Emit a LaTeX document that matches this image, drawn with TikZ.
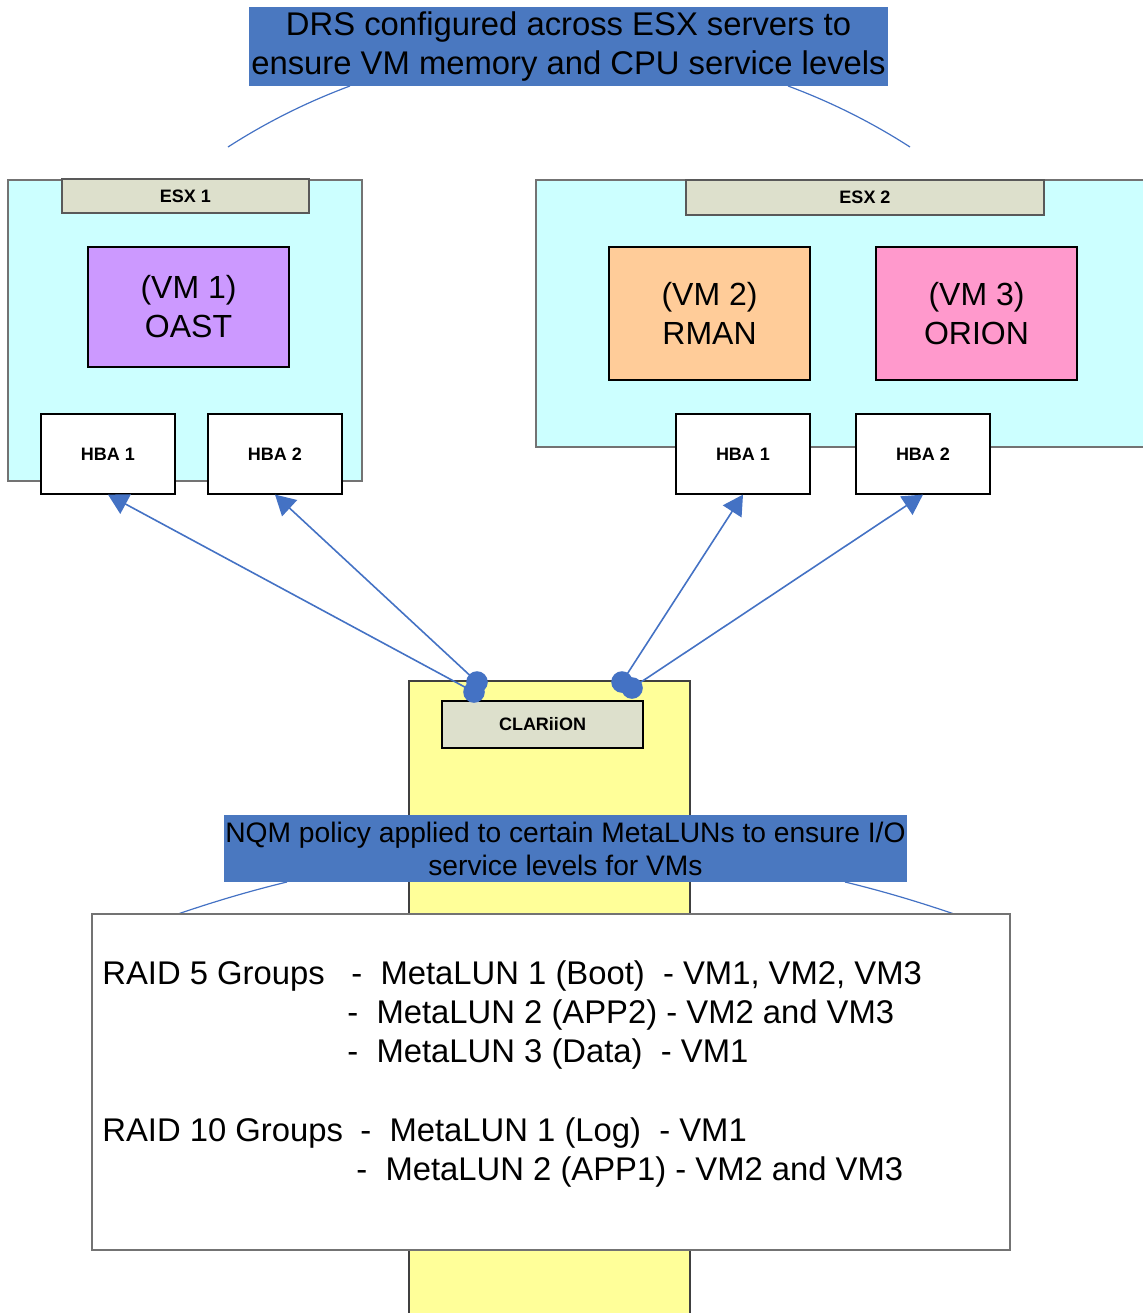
\documentclass[tikz,border=0pt]{standalone}
\usepackage{fontspec}
\setmainfont{Liberation Sans}
\usetikzlibrary{arrows.meta}
\usetikzlibrary{calc}
\definecolor{esxcyan}{HTML}{CCFFFF}
\definecolor{lblgray}{HTML}{DDE0CC}
\definecolor{vmviolet}{HTML}{CC99FF}
\definecolor{vmorange}{HTML}{FFCC99}
\definecolor{vmpink}{HTML}{FF99CC}
\definecolor{claryellow}{HTML}{FFFF99}
\definecolor{bannerblue}{HTML}{4A78C0}
\definecolor{linkblue}{HTML}{4472C4}

\begin{document}
\begin{tikzpicture}[x=0.5pt,y=-0.5pt,
		box/.style={draw, rectangle, inner sep=0pt, line width=0.6pt},
		lbl/.style={box, draw=black!65, fill=lblgray, font=\fontsize{9pt}{10pt}\selectfont\bfseries},
		hba/.style={box, fill=white, minimum width=67pt, minimum height=40pt, font=\fontsize{9pt}{10pt}\selectfont\bfseries},
		vm/.style={box, minimum width=100.5pt, align=center, font=\fontsize{16pt}{19.5pt}\selectfont},
		banner/.style={rectangle, fill=bannerblue, inner sep=0pt, align=center},
		curve/.style={linkblue, line width=0.6pt},
		link/.style={linkblue, line width=0.8pt, -{Triangle[length=10pt,width=11pt]}},
		lun/.style={anchor=base west, inner sep=0pt, font=\fontsize{16.4pt}{19.5pt}\selectfont}]
			\clip (0,0) rectangle (1143,1313);
			
			\draw[curve] (228,147) .. controls (266.3,122.3) and (307.2,101.9) .. (350,86);
			\draw[curve] (788,86) .. controls (830.8,101.9) and (871.7,122.3) .. (910,147);
			\node[banner, minimum width=319.5pt, minimum height=39.5pt, font=\fontsize{16.4pt}{19.5pt}\selectfont] (drs) at (568.5,46.5) {\raisebox{-1pt}{DRS configured across ESX servers to}\\\raisebox{-1pt}{ensure VM memory and CPU service levels}};
			
			\node[box, draw=black!55, fill=esxcyan, minimum width=177pt, minimum height=150.5pt] (esxa) at (185,330.5) {};
			\node[lbl, minimum width=123.5pt, minimum height=17pt] (esxalbl) at (185.5,196) {ESX 1};
			\node[vm, fill=vmviolet, minimum height=60pt] (vma) at (188.5,307) {(VM 1)\\OAST};
			\node[hba] (hbaa1) at (108,454) {HBA 1};
			\node[hba] (hbaa2) at (275,454) {HBA 2};
			
			\node[box, draw=black!55, fill=esxcyan, minimum width=312pt, minimum height=133.5pt] (esxb) at (848,313.5) {};
			\node[lbl, minimum width=179pt, minimum height=17.5pt] (esxblbl) at (865,197.5) {ESX 2};
			\node[vm, fill=vmorange, minimum height=66.5pt] (vmb) at (709.5,313.5) {(VM 2)\\RMAN};
			\node[vm, fill=vmpink, minimum height=66.5pt] (vmc) at (976.5,313.5) {(VM 3)\\ORION};
			\node[hba] (hbab1) at (743,454) {HBA 1};
			\node[hba] (hbab2) at (923,454) {HBA 2};
			
			\node[box, draw=black!75, fill=claryellow, minimum width=140.5pt, minimum height=330pt] (clar) at (549.5,1011) {};
			\node[lbl, draw=black, minimum width=100.5pt, minimum height=23.5pt] (clarlbl) at (542.5,724.5) {CLARiiON};
			
			\coordinate (pa1) at (474,692);
			\coordinate (pa2) at (477,682);
			\coordinate (pb1) at (622,682);
			\coordinate (pb2) at (632,688);
			\draw[link] (pa1) -- (hbaa1.south);
			\draw[link] (pa2) -- (hbaa2.south);
			\draw[link] (pb1) -- (hbab1.south);
			\draw[link] (pb2) -- (hbab2.south);
			\foreach \p in {pa1,pa2,pb1,pb2}
				\fill[linkblue] (\p) circle[radius=5.4pt];
			
			\draw[curve] (175,915) .. controls (211.8,902.3) and (249.2,891.1) .. (287,882);
			\draw[curve] (845,882) .. controls (882.8,891.1) and (920.2,902.3) .. (957,915);
			\node[banner, minimum width=341.5pt, minimum height=33.5pt, font=\fontsize{14.1pt}{16.5pt}\selectfont] (nqm) at (565.5,848.5) {NQM policy applied to certain MetaLUNs to ensure I/O\\service levels for VMs};
			
			\node[box, draw=black!55, fill=white, minimum width=459pt, minimum height=168pt] (lunbox) at (551,1082) {};
			\node[lun] (raida) at (102,984) {RAID 5 Groups};
			\node[lun] (luna1) at (351,984) {-\ \ MetaLUN 1 (Boot)\ \ - VM1, VM2, VM3};
			\node[lun] (luna2) at (347,1023) {-\ \ MetaLUN 2 (APP2) - VM2 and VM3};
			\node[lun] (luna3) at (347,1062) {-\ \ MetaLUN 3 (Data)\ \ - VM1};
			\node[lun] (raidb) at (102,1141) {RAID 10 Groups};
			\node[lun] (lunb1) at (360,1141) {-\ \ MetaLUN 1 (Log)\ \ - VM1};
			\node[lun] (lunb2) at (356,1180) {-\ \ MetaLUN 2 (APP1) - VM2 and VM3};
			
		\end{tikzpicture}
\end{document}
